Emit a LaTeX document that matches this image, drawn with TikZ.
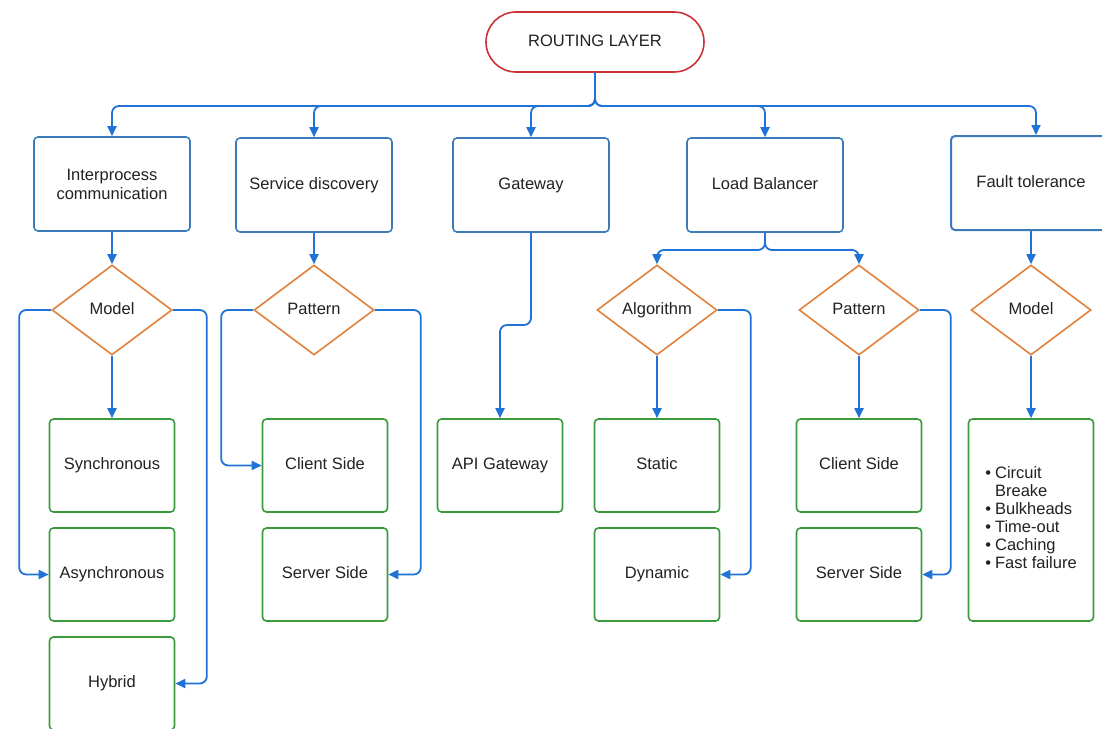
\documentclass[tikz,border=0pt]{standalone}
\usepackage{fontspec}
\setmainfont{Liberation Sans}
\usetikzlibrary{arrows.meta,shapes.geometric,shapes.misc}
\definecolor{cblue}{HTML}{1F72D6}
\definecolor{tblue}{HTML}{3C7BBA}
\definecolor{dorange}{HTML}{E2813C}
\definecolor{bgreen}{HTML}{3A9A3E}
\definecolor{rred}{HTML}{CC3338}
\definecolor{txt}{HTML}{222222}
\tikzset{
  oneline/.style={text height=12pt, text depth=3.5pt},
  topbox/.style={draw=tblue, line width=1.6pt, rounded corners=4pt, minimum width=156pt, minimum height=94pt, align=center, inner sep=0pt, text=txt},
  leafbox/.style={draw=bgreen, line width=1.6pt, rounded corners=4pt, minimum width=125pt, minimum height=93pt, align=center, inner sep=0pt, text=txt},
  decision/.style={diamond, draw=dorange, line width=1.6pt, minimum width=120pt, minimum height=90pt, inner sep=0pt, text=txt, oneline},
  startbox/.style={rounded rectangle, draw=rred, line width=1.6pt, minimum width=218pt, minimum height=60pt, inner sep=0pt, text=txt, oneline},
  conn/.style={draw=cblue, line width=1.8pt, rounded corners=7pt, -{Triangle[length=10pt,width=9pt]}},
}
\begin{document}
\begin{tikzpicture}[x=1pt,y=-1pt,font=\fontsize{16.5}{19}\selectfont]
\useasboundingbox (0,0) rectangle (1102,728);
\clip (0,0) rectangle (1102,728);
\fill[white] (0,0) rectangle (1102,728);

\node[startbox] (rl) at (595,42) {ROUTING LAYER};

\node[topbox] (ipc) at (112,184) {Interprocess\\communication};
\node[topbox, oneline] (sd) at (314,185) {Service discovery};
\node[topbox, oneline] (gw) at (531,185) {Gateway};
\node[topbox, oneline] (lb) at (765,185) {Load Balancer};
\node[topbox, oneline, minimum width=160pt, line width=2pt] (ft) at (1031,183) {Fault tolerance};

\node[decision] (m1) at (112,310) {Model};
\node[decision] (p1) at (314,310) {Pattern};
\node[decision] (alg) at (657,310) {Algorithm};
\node[decision] (p2) at (859,310) {Pattern};
\node[decision] (m3) at (1031,310) {Model};

\node[leafbox, oneline] (sync) at (112,465.5) {Synchronous};
\node[leafbox, oneline] (async) at (112,574.5) {Asynchronous};
\node[leafbox, oneline] (hyb) at (112,683.5) {Hybrid};
\node[leafbox, oneline] (cs1) at (325,465.5) {Client Side};
\node[leafbox, oneline] (ss1) at (325,574.5) {Server Side};
\node[leafbox, oneline] (api) at (500,465.5) {API Gateway};
\node[leafbox, oneline] (stat) at (657,465.5) {Static};
\node[leafbox, oneline] (dyn) at (657,574.5) {Dynamic};
\node[leafbox, oneline] (cs2) at (859,465.5) {Client Side};
\node[leafbox, oneline] (ss2) at (859,574.5) {Server Side};
\node[leafbox, minimum height=202pt] (fl) at (1031,520) {%
  \begin{tabular}{@{}l@{\hspace{4pt}}l@{}}
  \textbullet & Circuit\\[-1pt]
              & Breake\\[-1pt]
  \textbullet & Bulkheads\\[-1pt]
  \textbullet & Time-out\\[-1pt]
  \textbullet & Caching\\[-1pt]
  \textbullet & Fast failure
  \end{tabular}};

% routing layer to top boxes
\draw[conn] (rl.south) -- (595,106) -| (ipc.north);
\draw[conn] (rl.south) -- (595,106) -| (sd.north);
\draw[conn] (rl.south) -- (595,106) -| (gw.north);
\draw[conn] (rl.south) -- (595,106) -| (lb.north);
\draw[conn] (rl.south) -- (595,106) -| ([xshift=5pt]ft.north);

% top boxes to decisions
\draw[conn] (ipc.south) -- (m1.north);
\draw[conn] (sd.south) -- (p1.north);
\draw[conn] (lb.south) -- (765,250) -| (alg.north);
\draw[conn] (lb.south) -- (765,250) -| (p2.north);
\draw[conn] (ft.south) -- (m3.north);
\draw[conn] (gw.south) -- (531,325) -| (api.north);

% decisions to leaves
\draw[conn] (m1.south) -- (sync.north);
\draw[conn] (m1.west) -- ++(-32,0) |- (async.west);
\draw[conn] (m1.east) -- ++(34,0) |- (hyb.east);
\draw[conn] (p1.west) -- ++(-32,0) |- (cs1.west);
\draw[conn] (p1.east) -- ++(46,0) |- (ss1.east);
\draw[conn] (alg.south) -- (stat.north);
\draw[conn] (alg.east) -- ++(33,0) |- (dyn.east);
\draw[conn] (p2.south) -- (cs2.north);
\draw[conn] (p2.east) -- ++(31,0) |- (ss2.east);
\draw[conn] (m3.south) -- (fl.north);
\end{tikzpicture}
\end{document}
